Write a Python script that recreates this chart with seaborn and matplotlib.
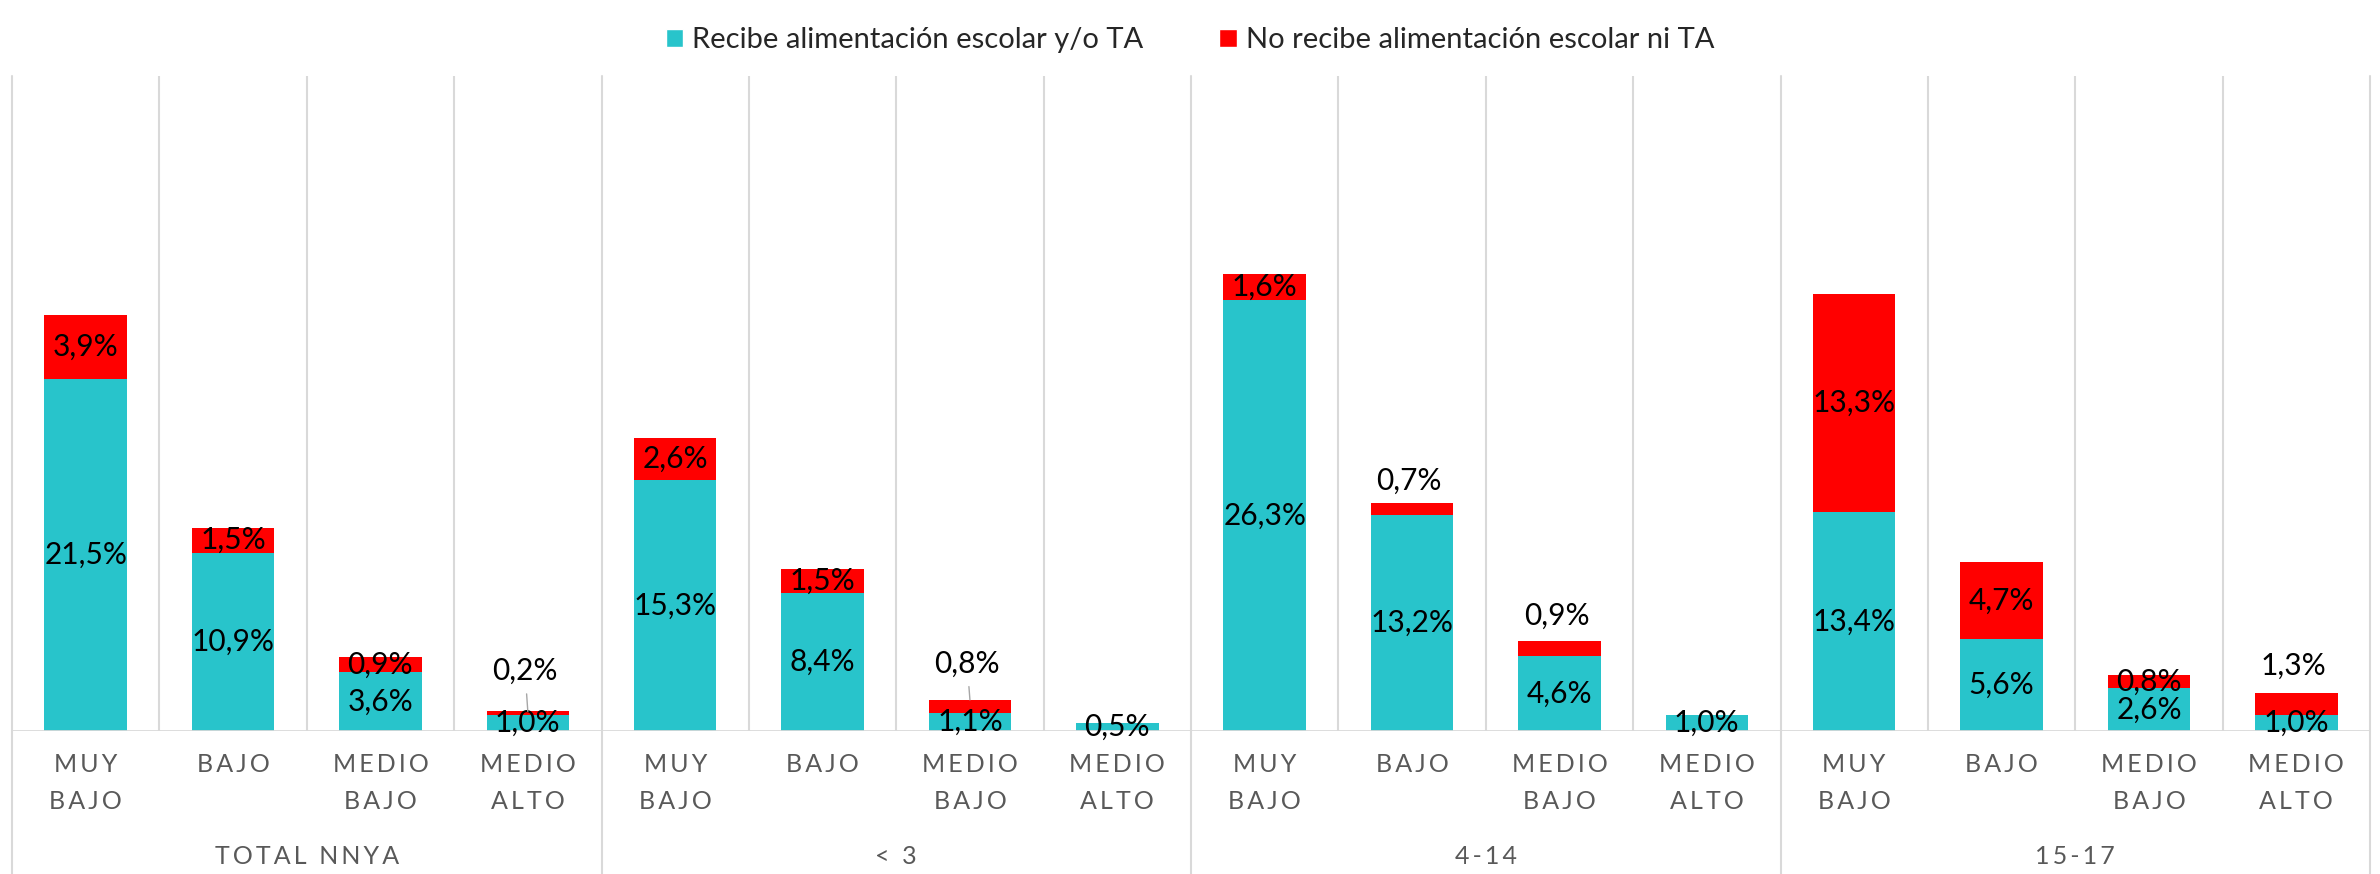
import numpy as np
import pandas as pd
import matplotlib
matplotlib.use("Agg")
import matplotlib.pyplot as plt
import matplotlib.transforms as mtransforms
from matplotlib.patches import Patch
from matplotlib.lines import Line2D
import seaborn as sns

# data (% of NNyA)
groups = ["TOTAL NNYA", "< 3", "4-14", "15-17"]
levels = ["MUY\nBAJO", "BAJO", "MEDIO\nBAJO", "MEDIO\nALTO"]
recibe = [21.5, 10.9, 3.6, 1.0, 15.3, 8.4, 1.1, 0.5, 26.3, 13.2, 4.6, 1.0, 13.4, 5.6, 2.6, 1.0]
no_recibe = [3.9, 1.5, 0.9, 0.2, 2.6, 1.5, 0.8, 0.0, 1.6, 0.7, 0.9, 0.0, 13.3, 4.7, 0.8, 1.3]
series_names = ["Recibe alimentación escolar y/o TA", "No recibe alimentación escolar ni TA"]

TEAL = "#28C4CB"
RED = "#FF0000"
GRID = "#D9D9D9"
GRAY_TXT = "#595959"
LBL_SIZE = 21.5

# red labels that Excel pushed above the bar: slot -> (offset in points, leader line)
above = {3: (29, True), 6: (26, True), 9: (16, False), 10: (18, False), 15: (20, False)}


def spaced(s):
    # fake the letter spacing of the category axis
    return "\n".join("\u2009".join(line) for line in s.split("\n"))


def pct(v):
    return f"{v:.1f}%".replace(".", ",")


sns.set_theme(style="white")
plt.rcParams["font.family"] = ["Lato", "DejaVu Sans"]

df = pd.DataFrame({"slot": range(len(recibe)), "recibe": recibe, "no": no_recibe})
df["total"] = df["recibe"] + df["no"]

W, H = 2380, 874
fig = plt.figure(figsize=(W / 100, H / 100), dpi=100)
ax = fig.add_axes([12 / W, 1 - 731 / H, (2370 - 12) / W, (731 - 76) / H])

# stacked bars: full height in red, teal part drawn over it
sns.barplot(data=df, x="slot", y="total", color=RED, width=0.56, saturation=1, ax=ax, zorder=2)
sns.barplot(data=df, x="slot", y="recibe", color=TEAL, width=0.56, saturation=1, ax=ax, zorder=3)
for p in ax.patches:
    p.set_linewidth(0)

ax.set_ylim(0, 40)
ax.set_xlim(-0.5, len(recibe) - 0.5)
ax.set_yticks([])
ax.set_xlabel("")
ax.set_ylabel("")
for s in ax.spines.values():
    s.set_visible(False)

# separators
bottom = -(H - 731) / (731 - 76)
trans = mtransforms.blended_transform_factory(ax.transData, ax.transAxes)
for k in range(len(recibe) + 1):
    xb = k - 0.5
    if k % 4 == 0:
        ax.add_line(Line2D([xb, xb], [1, bottom], transform=trans, color=GRID, lw=1.5, clip_on=False, zorder=1))
    else:
        ax.axvline(xb, color=GRID, lw=1.5, zorder=1)
ax.axhline(0, color=GRID, lw=2, zorder=4)

# data labels
teal_bars = ax.containers[1]
for i, bar in enumerate(teal_bars):
    xc = bar.get_x() + bar.get_width() / 2
    r, n = recibe[i], no_recibe[i]
    ax.text(xc, r / 2, pct(r), ha="center", va="center", fontsize=LBL_SIZE, color="black", zorder=6)
    if n <= 0:
        continue
    if i in above:
        off, leader = above[i]
        ax.annotate(pct(n), xy=(xc, r + n), xytext=(-2, off), textcoords="offset points",
                    ha="center", va="center", fontsize=LBL_SIZE, color="black", zorder=6,
                    arrowprops=dict(arrowstyle="-", color="#A6A6A6", lw=1, shrinkA=4, shrinkB=0) if leader else None)
    else:
        ax.text(xc, r + n / 2, pct(n), ha="center", va="center", fontsize=LBL_SIZE, color="black", zorder=6)

# category axis (two levels)
ax.set_xticks(range(len(recibe)))
ax.set_xticklabels([spaced(l) for l in levels * len(groups)])
ax.tick_params(axis="x", length=0, pad=16, labelsize=18, labelcolor=GRAY_TXT)
for lbl in ax.get_xticklabels():
    lbl.set_linespacing(1.75)
for g, name in enumerate(groups):
    ax.text(g * 4 + 1.5, -(856 - 731) / (731 - 76), spaced(name), transform=trans,
            ha="center", va="center", fontsize=18, color=GRAY_TXT)

handles = [Patch(facecolor=TEAL), Patch(facecolor=RED)]
fig.legend(handles, series_names, loc="upper center", bbox_to_anchor=(0.5, 1 - 1 / H), ncol=2,
           frameon=False, fontsize=21, handlelength=0.6, handleheight=0.6,
           handletextpad=0.3, columnspacing=2.6)

fig.savefig("out.png", dpi=100)
